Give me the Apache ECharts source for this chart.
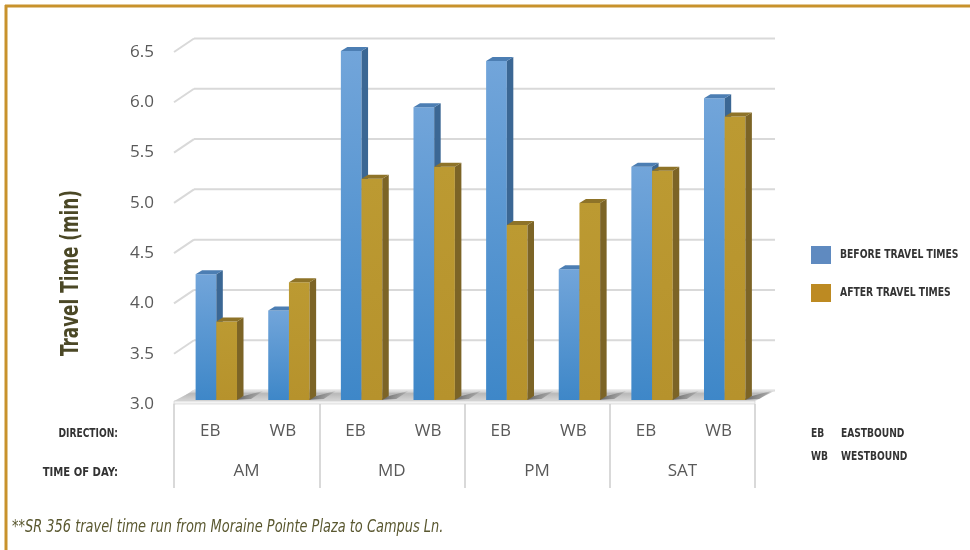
<!DOCTYPE html>
<html>
<head>
<meta charset="utf-8">
<title>Travel Time</title>
<script src="https://cdn.jsdelivr.net/npm/echarts/dist/echarts.min.js"></script>
<style>
    html, body { margin: 0; padding: 0; background: #fff; }
    #main { width: 970px; height: 550px; }
</style>
</head>
<body>
<div id="main"></div>
<script>
// chart data
var dirLabels = ['EB', 'WB', 'EB', 'WB', 'EB', 'WB', 'EB', 'WB'];
var timeLabels = ['AM', 'MD', 'PM', 'SAT'];
var beforeTimes = [4.25, 3.89, 6.47, 5.91, 6.37, 4.30, 5.32, 6.00];
var afterTimes = [3.78, 4.17, 5.20, 5.32, 4.74, 4.96, 5.28, 5.82];
var yTicks = [3.0, 3.5, 4.0, 4.5, 5.0, 5.5, 6.0, 6.5];
var seriesNames = ['Before Travel Times', 'After Travel Times'];

// no narrow font here, so condensed text gets squeezed with scaleX
var narrow = "'DejaVu Sans Condensed', 'DejaVu Sans', sans-serif";
var DEPTH_X = 20, DEPTH_Y = -13.5;   // back wall offset
var MID_X = 6, MID_Y = -4;           // bars stand a bit behind the front

// the back wall lines + the little diagonal ones on the left
function renderWall(params, api) {
    var bw = api.size([1, 0])[0];
    var p = api.coord([0, api.value(1)]);
    var left = p[0] - bw / 2;
    var right = left + bw * dirLabels.length;
    var ls = { stroke: '#d9d9d9', lineWidth: 2 };
    return {
        type: 'group',
        children: [
            { type: 'line', shape: { x1: left, y1: p[1], x2: left + DEPTH_X, y2: p[1] + DEPTH_Y }, style: ls },
            { type: 'line', shape: { x1: left + DEPTH_X, y1: p[1] + DEPTH_Y, x2: right + DEPTH_X, y2: p[1] + DEPTH_Y }, style: ls }
        ]
    };
}

// floor plate
function renderFloor(params, api) {
    var bw = api.size([1, 0])[0];
    var p = api.coord([0, 3]);
    var left = p[0] - bw / 2;
    var right = left + bw * dirLabels.length;
    var yf = p[1] - 3;
    return {
        type: 'group',
        children: [
            {
                type: 'polygon',
                shape: { points: [[left, yf], [right, yf], [right + DEPTH_X, p[1] + DEPTH_Y], [left + DEPTH_X, p[1] + DEPTH_Y]] },
                style: {
                    fill: new echarts.graphic.LinearGradient(0, 0, 0, 1, [
                        { offset: 0, color: '#e8e8e8' },
                        { offset: 0.3, color: '#b9b9b9' },
                        { offset: 1, color: '#d6d6d6' }
                    ])
                }
            },
            {
                type: 'rect',
                shape: { x: left, y: yf, width: right - left, height: 3 },
                style: { fill: '#f3f3f3', stroke: '#cfcfcf', lineWidth: 0.6 }
            }
        ]
    };
}

function makeBar(isLeft, c) {
    return function (params, api) {
        var idx = api.value(0);
        var v = api.value(1);
        var bw = api.size([1, 0])[0];
        var p0 = api.coord([idx, 3]);
        var p1 = api.coord([idx, v]);
        var w = bw * 0.285;
        var cx = p0[0] + MID_X;
        var x0 = isLeft ? cx - w : cx;
        var x1 = x0 + w;
        var yb = p0[1] + MID_Y;
        var yt = p1[1] + MID_Y;
        var dx = 6.5, dy = -4;
        var kids = [];
        if (!isLeft) {
            // shadow on the floor behind the pair
            kids.push({
                type: 'polygon',
                shape: { points: [[x1 - 4, yb], [x1 + dx, yb + dy], [x1 + 26, yb - 9], [x1 + 14, yb - 1]] },
                style: {
                    fill: new echarts.graphic.LinearGradient(0, 0, 1, 0, [
                        { offset: 0, color: 'rgba(40,40,40,0.75)' },
                        { offset: 1, color: 'rgba(90,90,90,0.15)' }
                    ])
                }
            });
        }
        kids.push({
            type: 'rect',
            shape: { x: x0, y: yt, width: w, height: yb - yt },
            style: {
                fill: new echarts.graphic.LinearGradient(0, 0, 0, 1, [
                    { offset: 0, color: c.top1 },
                    { offset: 1, color: c.bot1 }
                ])
            }
        });
        kids.push({
            type: 'polygon',
            shape: { points: [[x1, yt], [x1 + dx, yt + dy], [x1 + dx, yb + dy], [x1, yb]] },
            style: { fill: c.side }
        });
        kids.push({
            type: 'polygon',
            shape: { points: [[x0, yt], [x0 + dx, yt + dy], [x1 + dx, yt + dy], [x1, yt]] },
            style: { fill: c.cap }
        });
        return { type: 'group', children: kids };
    };
}

var blue = { top1: '#72a5da', bot1: '#3e87c8', side: '#3b6794', cap: '#4c7eb3' };
var gold = { top1: '#bc9a32', bot1: '#b6922c', side: '#7c6426', cap: '#8e7328' };

// squeezed text helper
function sq(text, x, y, size, sx, opt) {
    opt = opt || {};
    return {
        type: 'text', x: x, y: y, scaleX: sx, rotation: opt.rotation || 0,
        style: {
            text: text,
            font: (opt.style || 'bold') + ' ' + size + 'px ' + narrow,
            fill: opt.fill || '#333',
            align: opt.align || 'left',
            verticalAlign: 'middle'
        }
    };
}

var chartDom = document.getElementById('main');
var myChart = echarts.init(chartDom);
var option;
option = {
    backgroundColor: '#fff',
    animation: false,
    grid: { left: 174, right: 215, top: 52, bottom: 146 },
    legend: {
        orient: 'vertical',
        left: 811,
        top: 246,
        padding: 0,
        icon: 'rect',
        itemWidth: 20,
        itemHeight: 18,
        itemGap: 20,
        data: seriesNames,
        // labels are drawn squeezed in graphic below
        formatter: function () { return ''; }
    },
    xAxis: [
        {
            type: 'category',
            data: dirLabels,
            axisLine: { show: false },
            axisTick: { show: false },
            axisLabel: { margin: 19, fontFamily: 'Open Sans', fontSize: 17, color: '#595959' }
        },
        {
            type: 'category',
            data: timeLabels,
            position: 'bottom',
            axisLine: { show: false },
            axisTick: { show: true, interval: 0, length: 84, lineStyle: { color: '#d9d9d9', width: 2 } },
            axisLabel: { margin: 59, fontFamily: 'Open Sans', fontSize: 17, color: '#595959' }
        }
    ],
    yAxis: {
        type: 'value',
        min: 3,
        max: 6.5,
        interval: 0.5,
        axisLine: { show: false },
        axisTick: { show: false },
        splitLine: { show: false },
        axisLabel: {
            margin: 20,
            fontFamily: 'Open Sans',
            fontSize: 17,
            color: '#595959',
            formatter: function (v) { return v.toFixed(1); }
        }
    },
    series: [
        {
            type: 'custom',
            name: 'wall',
            silent: true,
            clip: false,
            z: 1,
            renderItem: renderWall,
            data: yTicks.map(function (v) { return [0, v]; })
        },
        {
            type: 'custom',
            name: 'floor',
            silent: true,
            clip: false,
            z: 2,
            renderItem: renderFloor,
            data: [[0, 3]]
        },
        {
            type: 'custom',
            name: seriesNames[0],
            clip: false,
            z: 3,
            itemStyle: { color: '#5f8ac0' },
            renderItem: makeBar(true, blue),
            data: beforeTimes.map(function (v, i) { return [i, v]; })
        },
        {
            type: 'custom',
            name: seriesNames[1],
            clip: false,
            z: 3,
            itemStyle: { color: '#bd8a22' },
            renderItem: makeBar(false, gold),
            data: afterTimes.map(function (v, i) { return [i, v]; })
        }
    ],
    graphic: [
        // gold frame, top and left
        { type: 'line', shape: { x1: 5, y1: 6, x2: 970, y2: 6 }, style: { stroke: '#c8922c', lineWidth: 3 } },
        { type: 'line', shape: { x1: 6, y1: 5, x2: 6, y2: 550 }, style: { stroke: '#c8922c', lineWidth: 3 } },
        sq('Travel Time (min)', 72, 273, 24, 0.78, { rotation: Math.PI / 2, align: 'center', fill: '#4b4826' }),
        sq('DIRECTION:', 118, 434, 13, 0.78, { align: 'right' }),
        sq('TIME OF DAY:', 118, 473, 13, 0.86, { align: 'right' }),
        sq('EB', 811, 434, 13, 0.78),
        sq('EASTBOUND', 841, 434, 13, 0.78),
        sq('WB', 811, 457, 13, 0.78),
        sq('WESTBOUND', 841, 457, 13, 0.78),
        sq(seriesNames[0].toUpperCase(), 840, 255, 13, 0.79),
        sq(seriesNames[1].toUpperCase(), 840, 293, 13, 0.79),
        sq('**SR 356 travel time run from Moraine Pointe Plaza to Campus Ln.', 12, 527, 18, 0.8, { style: 'italic', fill: '#5a5830' })
    ]
};
option && myChart.setOption(option);
</script>
</body>
</html>
